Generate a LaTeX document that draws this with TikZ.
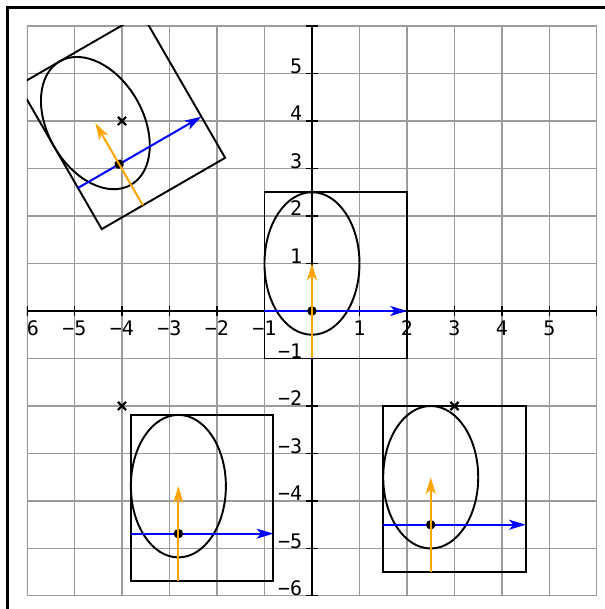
\documentclass[tikz,border=0pt]{standalone}
\usepackage{fontspec}
\newfontfamily\labelmono{DejaVu Sans Mono}
\usetikzlibrary{arrows.meta}
\definecolor{tipblue}{RGB}{0,0,255}
\definecolor{tiporange}{RGB}{255,165,0}
\definecolor{gridgray}{RGB}{155,155,155}
\begin{document}
\begin{tikzpicture}[x=1cm,y=1cm,
  gridline/.style={draw=gridgray, line width=0.95pt},
  axisline/.style={draw=black, line width=0.8pt},
  shapeline/.style={draw=black, line width=1.15pt},
  tipstyle/.style={-{Stealth[length=10pt,width=6pt,inset=2.6pt]}},
  bluearrow/.style={draw=tipblue, line width=1.2pt, tipstyle},
  orangearrow/.style={draw=tiporange, line width=1.2pt, tipstyle},
  ticklabel/.style={font=\labelmono\fontsize{12}{14}\selectfont, inner sep=0pt},
  xmark/.style={draw=black, line width=1.3pt},
  framestyle/.style={draw=black, line width=1.8pt}
]
\useasboundingbox (-6.568,-6.274) rectangle (6.168,6.547);
% frame (only left and top visible)
\draw[framestyle] (-6.41,-6.4) -- (-6.41,6.39) -- (6.3,6.39);

\begin{scope}
\clip (-6,-6) rectangle (6,6);
% grid
\foreach \g in {-6,...,6} {
  \draw[gridline] (\g,-6) -- (\g,6);
  \draw[gridline] (-6,\g) -- (6,\g);
}
% axes
\draw[axisline] (-6,0) -- (6,0);
\draw[axisline] (0,-6) -- (0,6);
% ticks
\foreach \g in {-6,...,6} {
  \draw[axisline] (\g,-0.11) -- (\g,0.11);
  \draw[axisline] (-0.12,\g) -- (0.12,\g);
}
% labels
\foreach \g/\t in {-6/−6,-5/−5,-4/−4,-3/−3,-2/−2,-1/−1,1/1,2/2,3/3,4/4,5/5} {
  \node[ticklabel, anchor=base] (xl\g) at (\g,-0.52) {\t};
  \node[ticklabel, anchor=base east] (yl\g) at (-0.2,\g) {\t};
}

% groups: shift x, shift y, rotation, name
\foreach \px/\py/\ang/\nm in {0/0/0/c, 2.5/-4.5/0/br, -2.8125/-4.6875/0/bl, -4.06/3.09/30/tl} {
  \begin{scope}[shift={(\px,\py)}, rotate=\ang]
    \coordinate (\nm-o) at (0,0);
    \coordinate (\nm-bs) at (-1,0);
    \coordinate (\nm-be) at (2,0);
    \coordinate (\nm-os) at (0,-1);
    \coordinate (\nm-oe) at (0,1);
    \draw[shapeline] (-1,-1) rectangle (2,2.5);
    \draw[shapeline] (0,1) ellipse [x radius=1, y radius=1.5];
    \draw[bluearrow] (\nm-bs) -- (\nm-be);
    \fill[black] (\nm-o) circle [radius=0.1];
    \draw[orangearrow] (\nm-os) -- (\nm-oe);
  \end{scope}
}

% cross marks
\foreach \cx/\cy/\nm in {-4/4/ka, -4/-2/kb, 3/-2/kc} {
  \coordinate (\nm) at (\cx,\cy);
  \draw[xmark] ([shift={(-0.085,-0.085)}]\nm) -- ([shift={(0.085,0.085)}]\nm);
  \draw[xmark] ([shift={(-0.085,0.085)}]\nm) -- ([shift={(0.085,-0.085)}]\nm);
}
\end{scope}
\end{tikzpicture}
\end{document}
